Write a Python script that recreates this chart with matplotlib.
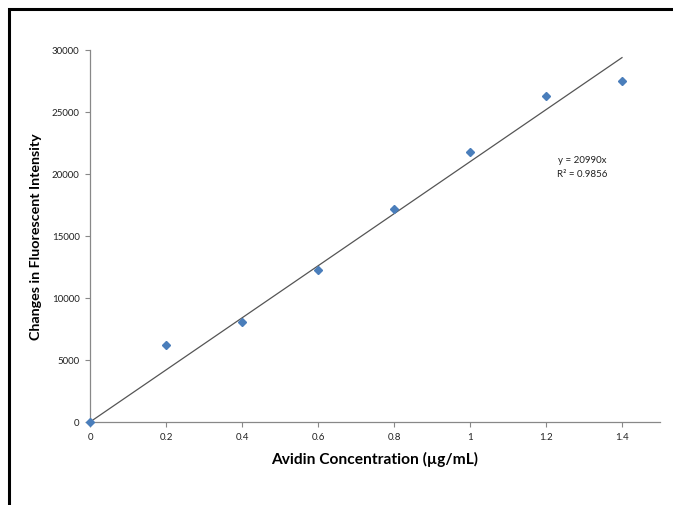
import matplotlib.pyplot as plt
from matplotlib.patches import Rectangle
import numpy as np

# Avidin calibration data
concentration = [0.0, 0.2, 0.4, 0.6, 0.8, 1.0, 1.2, 1.4]
intensity = [0, 6200, 8050, 12250, 17200, 21800, 26300, 27500]
slope = 20990
r_squared = 0.9856
x_ticks = [0, 0.2, 0.4, 0.6, 0.8, 1, 1.2, 1.4]
y_ticks = [0, 5000, 10000, 15000, 20000, 25000, 30000]


def main():
    plt.rcParams['font.family'] = ['Lato', 'DejaVu Sans']
    fig = plt.figure(figsize=(6.73, 5.06), dpi=100)
    ax = fig.add_axes([90 / 673, 1 - 423 / 506, 570 / 673, 372 / 506])

    # outer chart frame, cut off at right and bottom as in the screenshot
    fig.patches.append(Rectangle((8.5 / 673, -0.2), 2.0, 1.2 - 9.5 / 506,
                                 transform=fig.transFigure, fill=False,
                                 edgecolor='black', linewidth=2.2))

    trend_x = np.array([0, concentration[-1]])
    ax.plot(trend_x, slope * trend_x, color='#555555', linewidth=0.9, zorder=2)
    ax.plot(concentration, intensity, linestyle='none', marker='D',
            markersize=4.0, color='#4A7EBB', zorder=3, clip_on=False)

    ax.text(1.295, 21150, f"y = {slope}x", fontsize=7, ha='center', va='center',
            color='#222222')
    ax.text(1.295, 20050, f"R² = {r_squared}", fontsize=7, ha='center', va='center',
            color='#222222')

    ax.set_xlim(0, 1.5)
    ax.set_ylim(0, 30000)
    ax.set_xticks(x_ticks)
    ax.set_xticklabels([f"{t:g}" for t in x_ticks])
    ax.set_yticks(y_ticks)
    ax.set_yticklabels([str(t) for t in y_ticks])

    for side in ['top', 'right']:
        ax.spines[side].set_visible(False)
    for side in ['left', 'bottom']:
        ax.spines[side].set_color('#888888')
        ax.spines[side].set_linewidth(0.9)
    ax.tick_params(axis='both', direction='out', length=3.5, width=0.8,
                   color='#888888', labelsize=7, labelcolor='#222222', pad=4)

    ax.set_xlabel("Avidin Concentration (µg/mL)", fontsize=11.2, fontweight='bold',
                  labelpad=7)
    ax.set_ylabel("Changes in Fluorescent Intensity", fontsize=10.3, fontweight='bold',
                  labelpad=7)

    fig.savefig("out.png", dpi=100)


if __name__ == "__main__":
    main()
